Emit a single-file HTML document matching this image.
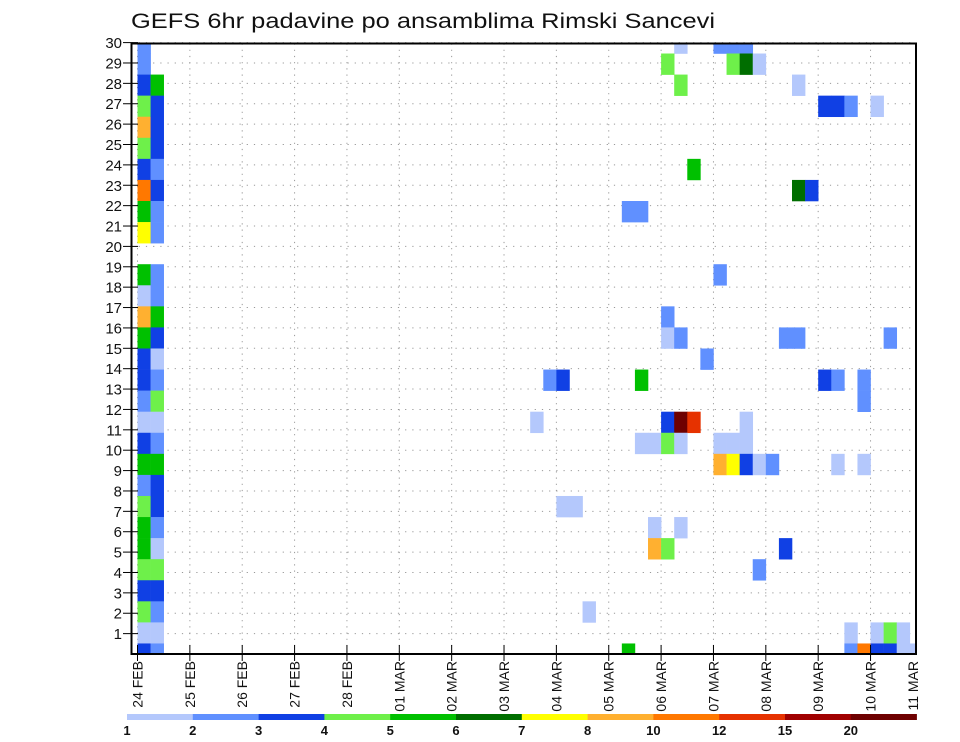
<!DOCTYPE html>
<html><head><meta charset="utf-8"><style>
html,body{margin:0;padding:0;background:#fff;width:960px;height:742px;overflow:hidden}
svg{display:block;font-family:"Liberation Sans",sans-serif}
</style></head><body>
<svg id="chart" width="960" height="742" viewBox="0 0 960 742">
<text x="131" y="28" font-size="21" textLength="584" lengthAdjust="spacingAndGlyphs" fill="#111">GEFS 6hr padavine po ansamblima Rimski Sancevi</text>
<g id="grid"></g>
<g id="cells"></g>
<g id="axes"></g>
<g id="legend"></g>
</svg>
<script>
// data
const dayLabels = ["24 FEB","25 FEB","26 FEB","27 FEB","28 FEB","01 MAR","02 MAR","03 MAR","04 MAR","05 MAR","06 MAR","07 MAR","08 MAR","09 MAR","10 MAR","11 MAR"];
const yTickLabels = [1,2,3,4,5,6,7,8,9,10,11,12,13,14,15,16,17,18,19,20,21,22,23,24,25,26,27,28,29,30];
const legendLabels = ["1","2","3","4","5","6","7","8","10","12","15","20"];
const legendBounds = [1,2,3,4,5,6,7,8,10,12,15,20,999];
const legendColors = ["#b4c8fc","#6090ff","#1040e4","#6ef04a","#00c000","#006e00","#ffff00","#ffb030","#ff7800","#e63200","#a00000","#6e0000"];
// cells: 6-hour step index, ensemble member index, precipitation (mm)
const cellStep = [
0,0,0,0,0,0,0,0,0,0,0,0,0,0,0,0,0,0,0,0,0,0,0,0,0,0,0,0,0,
1,1,1,1,1,1,1,1,1,1,1,1,1,1,1,1,1,1,1,1,1,1,1,1,1,1,1,
41,40,41,42,37,38,44,40,40,41,43,44,45,46,45,46,47,50,52,53,54,56,50,51,49,50,57,
31,32,38,30,40,41,42,38,39,40,41,44,45,46,46,32,33,39,41,39,40,34,37,
52,53,55,55,44,45,46,47,48,53,55,49,47,54,56,57,58,54,55,56,57,58,59];
const cellMember = [
29,28,27,26,25,24,23,22,21,20,18,17,16,15,14,13,12,11,10,9,8,7,6,5,4,3,2,1,0,
27,26,25,24,23,22,21,20,18,17,16,15,14,13,12,11,10,9,8,7,6,5,4,3,2,1,0,
29,28,27,23,21,21,18,16,15,15,14,29,29,29,28,28,28,27,26,26,26,26,22,22,15,15,15,
13,13,13,11,11,11,11,10,10,10,10,10,10,10,11,7,7,6,6,5,5,2,0,
13,13,13,12,9,9,9,9,9,9,9,5,4,1,1,1,1,0,0,0,0,0,0];
const cellValue = [
2.5,2.5,3.5,4.5,9,4.5,3.5,11,5.5,7.5,5.5,1.5,9,5.5,3.5,3.5,2.5,1.5,3.5,5.5,2.5,4.5,5.5,5.5,4.5,3.5,4.5,1.5,3.5,
5.5,3.5,3.5,3.5,2.5,3.5,2.5,2.5,2.5,2.5,5.5,3.5,1.5,2.5,4.5,1.5,2.5,5.5,3.5,3.5,2.5,1.5,4.5,3.5,2.5,1.5,2.5,
1.5,4.5,4.5,5.5,2.5,2.5,2.5,2.5,1.5,2.5,2.5,2.5,2.5,2.5,4.5,6.5,1.5,1.5,3.5,3.5,2.5,1.5,6.5,3.5,2.5,2.5,2.5,
2.5,3.5,5.5,1.5,3.5,22,13,1.5,1.5,4.5,1.5,1.5,1.5,1.5,1.5,1.5,1.5,1.5,1.5,9,4.5,1.5,5.5,
3.5,2.5,2.5,2.5,9,7.5,3.5,1.5,2.5,1.5,1.5,3.5,2.5,1.5,1.5,4.5,1.5,2.5,11,3.5,3.5,1.5,1.5];
</script>
<script>
const NS="http://www.w3.org/2000/svg";
const L=131.5,R=916,T=43.5,B=654;
const x0=137.5, dayW=52.36, stepW=dayW/4;
const labelSp=20.38, cellH=21.07;
function xDay(d){return x0+d*dayW;}
function xStep(k){return x0+k*stepW;}
function yLabel(v){return B-v*labelSp;}
function yMember(m){return B-m*cellH;}
function mk(tag,attrs,parent){const e=document.createElementNS(NS,tag);for(const k in attrs)e.setAttribute(k,attrs[k]);parent.appendChild(e);return e;}
function colorFor(v){for(let i=0;i<legendColors.length;i++){if(v>=legendBounds[i]&&v<legendBounds[i+1])return legendColors[i];}return null;}
const grid=document.getElementById('grid'),cells=document.getElementById('cells'),axes=document.getElementById('axes'),legend=document.getElementById('legend');
yTickLabels.forEach(v=>{const y=yLabel(v);
 const g=mk('line',{x1:L,x2:R,y1:y,y2:y,stroke:'#999','stroke-width':1,'stroke-dasharray':'1.2 6'},grid);
 
 
});
dayLabels.forEach((d,i)=>{const x=xDay(i);if(x>R)return;
 const g=mk('line',{x1:x,x2:x,y1:T,y2:B,stroke:'#999','stroke-width':1,'stroke-dasharray':'1.2 5'},grid);
 
 
});
const defs=mk('defs',{},document.getElementById('chart'));
const cp=mk('clipPath',{id:'plotclip'},defs);
mk('rect',{x:L,y:T,width:R-L,height:B-T},cp);
cells.setAttribute('clip-path','url(#plotclip)');
for(let i=0;i<cellStep.length;i++){
 const c=colorFor(cellValue[i]);if(!c)continue;
 const r=mk('rect',{x:xStep(cellStep[i]),y:yMember(cellMember[i])-cellH/2,width:stepW+0.3,height:cellH+0.3,fill:c},cells);
 
 
}
const fr=mk('rect',{x:L,y:T,width:R-L,height:B-T,fill:'none',stroke:'#000','stroke-width':2},axes);


yTickLabels.forEach(v=>{const y=yLabel(v);
 const t=mk('line',{x1:123,x2:138,y1:y,y2:y,stroke:'#000','stroke-width':1},axes);
 
 
 const tx=mk('text',{x:122,y:y+5.5,'font-size':15,'text-anchor':'end',fill:'#111'},axes);
 tx.textContent=v;
 
 
});
dayLabels.forEach((d,i)=>{let x=xDay(i);
 if(x<=R){const t=mk('line',{x1:x,x2:x,y1:645,y2:661,stroke:'#000','stroke-width':1},axes);
 
 }
 else x=913;
 const tx=mk('text',{x:0,y:0,'font-size':14,'text-anchor':'end',fill:'#111',transform:`translate(${x+5},661) rotate(-90)`},axes);
 tx.textContent=d;
 
 
});
const lx0=127, lw=65.8;
legendColors.forEach((c,i)=>{
 const r=mk('rect',{x:lx0+i*lw,y:714,width:lw+0.3,height:6,fill:c},legend);
 
 
 const t=mk('text',{x:lx0+i*lw,y:735,'font-size':13,'font-weight':'bold','text-anchor':'middle',fill:'#111'},legend);
 t.textContent=legendLabels[i];
 
 
});
</script>
</body></html>
